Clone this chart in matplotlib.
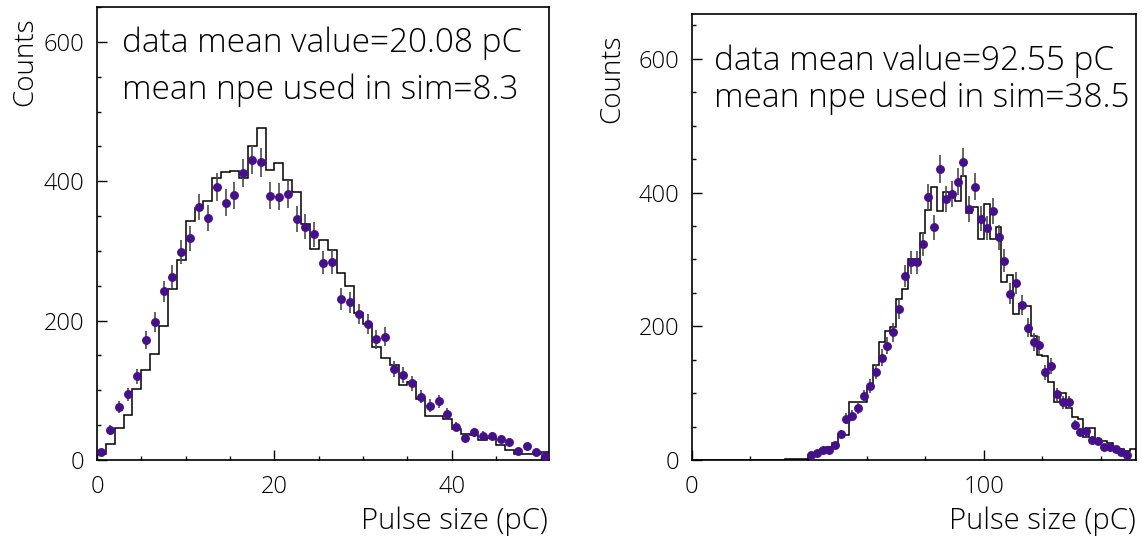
import numpy as np
import matplotlib
matplotlib.use("Agg")
import matplotlib.pyplot as plt
from matplotlib.ticker import MultipleLocator

plt.rcParams["font.family"] = ["Open Sans", "DejaVu Sans"]
plt.rcParams["font.weight"] = "light"

W, H = 1142, 541

# left panel: 51 bins of 1 pC (0..51 pC)
left_range = (0, 51)
left_data = [11, 43, 76, 94, 120, 172, 198, 242, 263, 298,
             318, 363, 347, 392, 369, 380, 412, 431, 427, 379,
             378, 381, 346, 335, 324, 283, 284, 231, 226, 209,
             195, 173, 177, 130, 122, 110, 91, 78, 84, 66,
             48, 32, 40, 35, 34, 30, 26, 13, 20, 12, 6]
left_sim = [8, 23, 46, 64, 102, 129, 152, 192, 245, 287,
            343, 362, 371, 404, 413, 415, 404, 450, 477, 416,
            426, 402, 385, 339, 303, 315, 301, 269, 249, 211,
            195, 162, 146, 137, 107, 112, 87, 63, 63, 59,
            45, 38, 36, 29, 31, 21, 14, 9, 9, 9, 11]
left_notes = ["data mean value=20.08 pC", "mean npe used in sim=8.3"]

# right panel: 76 bins of 2 pC (0..152 pC)
right_range = (0, 152)
right_data = [0] * 20 + [
    7, 10, 15, 15, 22, 39, 62, 66, 78, 95,
    111, 132, 153, 171, 191, 226, 275, 296, 296, 323,
    393, 348, 435, 390, 398, 416, 445, 375, 409, 361,
    347, 372, 333, 298, 249, 265, 232, 198, 176, 172,
    131, 140, 98, 86, 86, 52, 42, 43, 30, 29,
    19, 20, 17, 12, 7, 0]
right_sim = [0] * 16 + [1, 2, 1, 2] + [
    8, 11, 17, 20, 25, 38, 38, 86, 86, 86,
    107, 142, 176, 193, 199, 241, 256, 301, 300, 339,
    374, 409, 373, 401, 397, 387, 424, 369, 379, 330,
    383, 330, 349, 266, 276, 219, 233, 231, 186, 157,
    155, 117, 87, 100, 78, 65, 61, 35, 48, 30,
    29, 25, 19, 16, 14, 16]
right_notes = ["data mean value=92.55 pC", "mean npe used in sim=38.5"]

DOT = "#45108a"


def fx(px):
    return px / W


def fy(py):
    return 1 - py / H


def panel(fig, box, data, sim, xrange, ymax, xmajor, xminor, notes, note_pos):
    l, t, r, b = box
    ax = fig.add_axes([fx(l), fy(b), fx(r) - fx(l), fy(t) - fy(b)])
    data = np.asarray(data, float)
    sim = np.asarray(sim, float)
    edges = np.linspace(xrange[0], xrange[1], len(sim) + 1)
    centers = 0.5 * (edges[:-1] + edges[1:])

    ax.stairs(sim, edges, color="black", lw=1.1, zorder=2)
    keep = data > 0
    ax.errorbar(centers[keep], data[keep], yerr=np.sqrt(data[keep]),
                fmt="o", ms=5.4, color=DOT, mec=DOT, ecolor="#4a4a4a",
                elinewidth=1.2, capsize=0, zorder=3)

    ax.set_xlim(*xrange)
    ax.set_ylim(0, ymax)
    ax.xaxis.set_major_locator(MultipleLocator(xmajor))
    ax.xaxis.set_minor_locator(MultipleLocator(xminor))
    ax.yaxis.set_major_locator(MultipleLocator(200))
    ax.yaxis.set_minor_locator(MultipleLocator(50))
    ax.tick_params(which="both", direction="in", top=False, right=False,
                   width=1.0, colors="black")
    ax.tick_params(which="major", length=7.5)
    ax.tick_params(which="minor", length=3.2)
    ax.tick_params(axis="x", labelsize=17, pad=11)
    ax.tick_params(axis="y", labelsize=17, pad=9)
    for s in ax.spines.values():
        s.set_linewidth(1.2)

    (nx, ny1, ny2, fs) = note_pos
    ax.text(nx, ny1, notes[0], fontsize=fs, va="center", ha="left")
    ax.text(nx, ny2, notes[1], fontsize=fs, va="center", ha="left")
    return ax


fig = plt.figure(figsize=(W / 100, H / 100), dpi=100)

panel(fig, (97, 7, 549.4, 460), left_data, left_sim, left_range, 650,
      20, 5, left_notes, (2.8, 598, 531, 24))
panel(fig, (691.5, 14, 1136, 460), right_data, right_sim, right_range, 667,
      100, 20, right_notes, (7.7, 596, 541, 24))

for cx, top in ((25, 17), (612, 34)):
    fig.text(fx(cx), fy(top), "Counts", rotation=90, ha="center", va="top",
             fontsize=20)
for rx in (548, 1136):
    fig.text(fx(rx), fy(507), "Pulse size (pC)", ha="right", va="top",
             fontsize=21)

fig.savefig("out.png", dpi=100)
